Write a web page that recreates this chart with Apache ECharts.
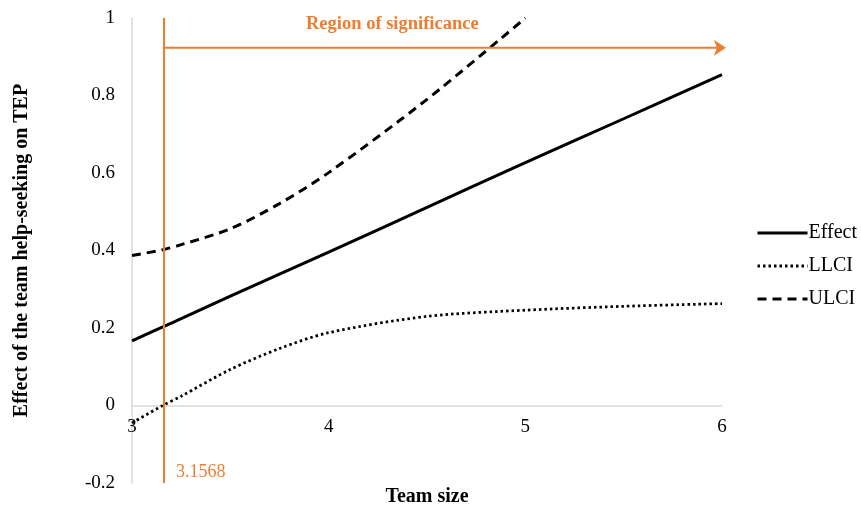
<!DOCTYPE html>
<html>
<head>
<meta charset="utf-8">
<script src="https://cdn.jsdelivr.net/npm/echarts@6/dist/echarts.min.js"></script>
<style>html,body{margin:0;padding:0;background:#fff}#c{width:861px;height:509px}</style>
</head>
<body>
<div id="c"></div>
<script>
// Data
var teamSize = [3, 3.1568, 3.25, 3.5, 3.75, 4, 4.5, 5, 5.5, 6];
var effect   = [0.167, 0.203, 0.224, 0.282, 0.339, 0.396, 0.511, 0.627, 0.740, 0.854];
var llci     = [-0.045, 0.0, 0.024, 0.093, 0.147, 0.188, 0.230, 0.246, 0.256, 0.263];
var ulci     = [0.387, 0.402, 0.415, 0.456, 0.521, 0.601, 0.790, 1.0, null, null];
var jnPoint = 3.1568;
var arrowLevel = 0.923;
var arrowEnd = 6.02;
var yTicks = { min: -0.2, max: 1, interval: 0.2 };
var xTicks = { min: 3, max: 6, interval: 1 };

function pairs(xs, ys) {
  var out = [];
  for (var i = 0; i < xs.length; i++) { if (ys[i] !== null) out.push([xs[i], ys[i]]); }
  return out;
}

var orange = '#ED7D31';
var serif = '"Liberation Serif", "Times New Roman", serif';
var chart = echarts.init(document.getElementById('c'));
chart.setOption({
  animation: false,
  textStyle: { fontFamily: serif },
  grid: { left: 132, right: 139, top: 18, bottom: 26, outerBoundsMode: 'none', containLabel: false },
  legend: {
    data: ['Effect', 'LLCI', 'ULCI'],
    orient: 'vertical',
    left: 756, top: 223, padding: 0,
    itemWidth: 50, itemHeight: 14, itemGap: 13,
    itemStyle: { opacity: 0 },
    lineStyle: { width: 3 },
    textStyle: { fontFamily: serif, fontSize: 20, color: '#000', padding: [0, 0, 0, -4] }
  },
  xAxis: {
    type: 'value', min: xTicks.min, max: xTicks.max, interval: xTicks.interval,
    name: 'Team size', nameLocation: 'middle', nameGap: 4,
    nameTextStyle: { fontFamily: serif, fontSize: 20, fontWeight: 'bold', color: '#000' },
    axisLine: { onZero: true, lineStyle: { color: '#D9D9D9', width: 1.5 } },
    axisTick: { show: false },
    splitLine: { show: false },
    axisLabel: { fontFamily: serif, fontSize: 19, color: '#000', margin: -65 }
  },
  yAxis: {
    type: 'value', min: yTicks.min, max: yTicks.max, interval: yTicks.interval,
    name: 'Effect of the team help-seeking on TEP', nameLocation: 'middle', nameGap: 100,
    nameTextStyle: { fontFamily: serif, fontSize: 20, fontWeight: 'bold', color: '#000' },
    axisLine: { show: true, lineStyle: { color: '#D9D9D9', width: 1.5 } },
    axisTick: { show: false },
    splitLine: { show: false },
    axisLabel: { fontFamily: serif, fontSize: 19, color: '#000', margin: 17 }
  },
  series: [
    { name: 'Effect', type: 'line', data: pairs(teamSize, effect), showSymbol: false, symbol: 'none',
      smooth: 0.3, lineStyle: { color: '#000', width: 3 }, itemStyle: { color: '#000' } },
    { name: 'LLCI', type: 'line', data: pairs(teamSize, llci), showSymbol: false, symbol: 'none',
      smooth: 0.3, lineStyle: { color: '#000', width: 2.75, type: [2.5, 3] }, itemStyle: { color: '#000' } },
    { name: 'ULCI', type: 'line', data: pairs(teamSize, ulci), showSymbol: false, symbol: 'none',
      smooth: 0.3, lineStyle: { color: '#000', width: 3, type: [9, 6] }, itemStyle: { color: '#000' } },
    { name: 'sig', type: 'line', clip: false, silent: true, symbol: 'none', showSymbol: true,
      data: [[jnPoint, arrowLevel],
             { value: [arrowEnd, arrowLevel], symbol: 'arrow', symbolRotate: -90, symbolSize: [12, 12] }],
      lineStyle: { color: orange, width: 2 }, itemStyle: { color: orange },
      markLine: {
        silent: true, animation: false, symbol: ['none', 'none'],
        lineStyle: { color: orange, width: 2, type: 'solid' },
        label: { show: false },
        data: [ { xAxis: jnPoint } ]
      }
    }
  ],
  graphic: [
    { type: 'text', left: 306, top: 15, style: { text: 'Region of significance', fill: orange,
      font: 'bold 18.5px "Liberation Serif", serif' } },
    { type: 'text', left: 176, top: 463, style: { text: '3.1568', fill: orange,
      font: '18px "Liberation Serif", serif' } }
  ]
});
</script>
</body>
</html>
